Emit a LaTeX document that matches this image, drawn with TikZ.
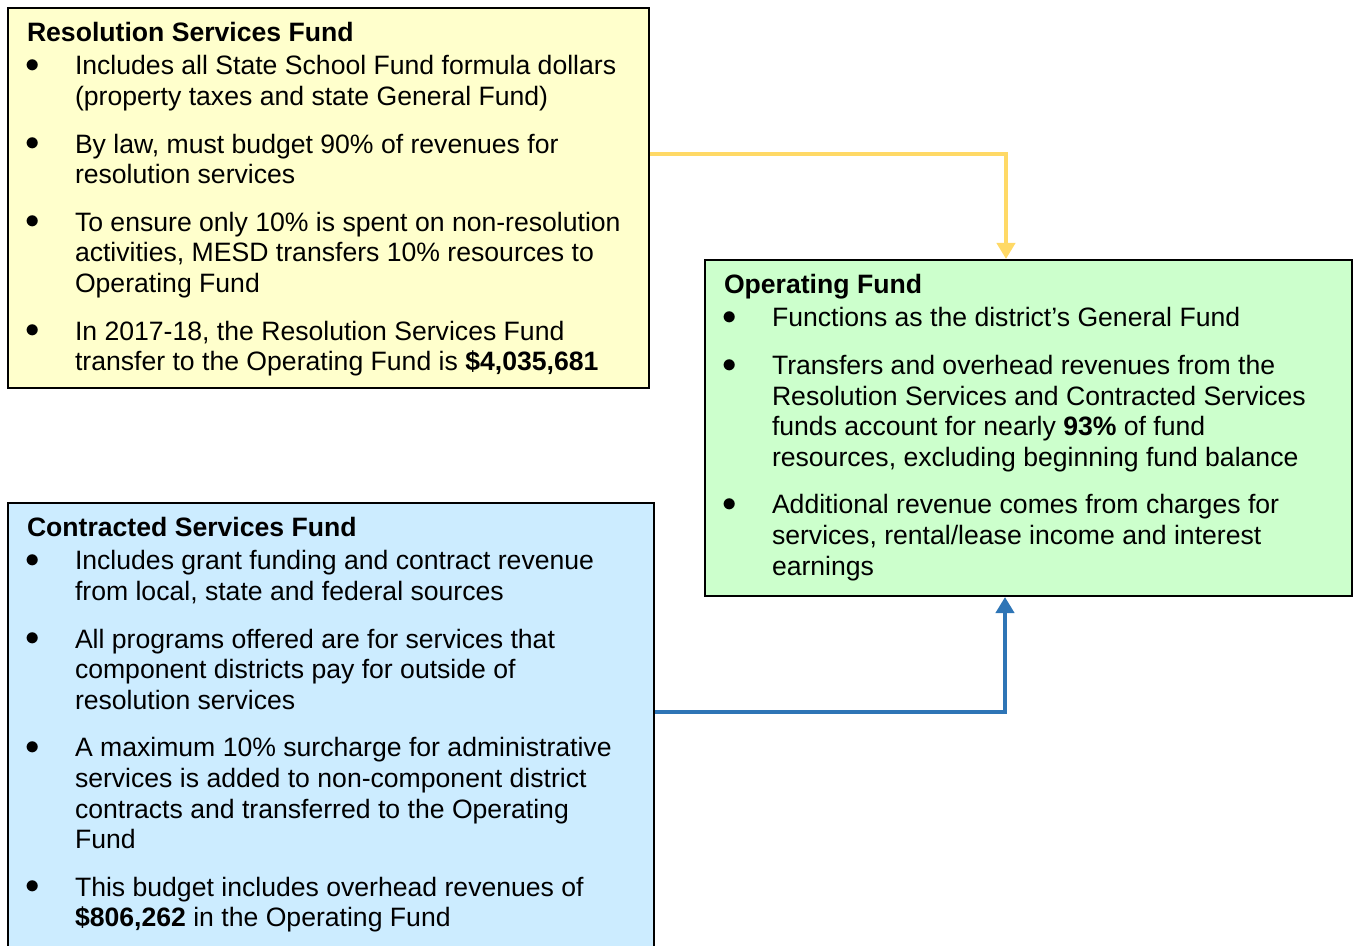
\documentclass[tikz,border=0pt]{standalone}
\usepackage{fontspec}
\setmainfont{Liberation Sans}
\usetikzlibrary{arrows.meta}

\definecolor{resfill}{HTML}{FFFFCC}
\definecolor{opfill}{HTML}{CCFFCC}
\definecolor{confill}{HTML}{CCECFF}
\definecolor{resline}{HTML}{FFD966}
\definecolor{conline}{HTML}{2E75B6}

\tikzstyle{fund}=[rectangle, draw=black, line width=1pt, anchor=north west, inner xsep=9.5pt, inner ysep=7pt, font=\fontsize{13.3}{15.3}\selectfont]

\newcommand{\fundhead}[1]{\textbf{#1}\par\vspace{1.5pt}}
\newcommand{\funditem}[1]{\hangindent=24pt\hangafter=1\noindent\makebox[24pt][l]{\hspace*{-0.8pt}\raisebox{1.2pt}{$\bullet$}}{\let\\\newline#1}\par}
\newcommand{\fundgap}{\vspace{8.5pt}}

\begin{document}
\begin{tikzpicture}[x=0.5pt, y=-0.5pt, flow/.style = {line width=2pt, -{Triangle[width=9pt,length=8pt]}}]
    \useasboundingbox (0,0) rectangle (1355,946);

    \node (res) [fund, fill=resfill] at (7,7) {\begin{minipage}[t][176pt][t]{301.5pt}\raggedright\parskip=0pt
      \fundhead{Resolution Services Fund}
      \funditem{Includes all State School Fund formula dollars\\(property taxes and state General Fund)}
      \fundgap
      \funditem{By law, must budget 90\% of revenues for\\resolution services}
      \fundgap
      \funditem{To ensure only 10\% is spent on non-resolution\\activities, MESD transfers 10\% resources to\\Operating Fund}
      \fundgap
      \funditem{In 2017-18, the Resolution Services Fund\\transfer to the Operating Fund is \textbf{\$4,035,681}}
    \end{minipage}};

    \node (op) [fund, fill=opfill] at (704,259) {\begin{minipage}[t][154pt][t]{304.5pt}\raggedright\parskip=0pt
      \fundhead{Operating Fund}
      \funditem{Functions as the district’s General Fund}
      \fundgap
      \funditem{Transfers and overhead revenues from the\\Resolution Services and Contracted Services\\funds account for nearly \textbf{93\%} of fund\\resources, excluding beginning fund balance}
      \fundgap
      \funditem{Additional revenue comes from charges for\\services, rental/lease income and interest\\earnings}
    \end{minipage}};

    \node (con) [fund, fill=confill] at (7,502) {\begin{minipage}[t][216pt][t]{304pt}\raggedright\parskip=0pt
      \fundhead{Contracted Services Fund}
      \funditem{Includes grant funding and contract revenue\\from local, state and federal sources}
      \fundgap
      \funditem{All programs offered are for services that\\component districts pay for outside of\\resolution services}
      \fundgap
      \funditem{A maximum 10\% surcharge for administrative\\services is added to non-component district\\contracts and transferred to the Operating\\Fund}
      \fundgap
      \funditem{This budget includes overhead revenues of\\\textbf{\$806,262} in the Operating Fund}
    \end{minipage}};

    \draw[flow, resline] ([yshift=22pt]res.east) -| ([xshift=-11.25pt]op.north);
    \draw[flow, conline] ([yshift=10.5pt]con.east) -| ([xshift=-11.75pt]op.south);
  \end{tikzpicture}
\end{document}
